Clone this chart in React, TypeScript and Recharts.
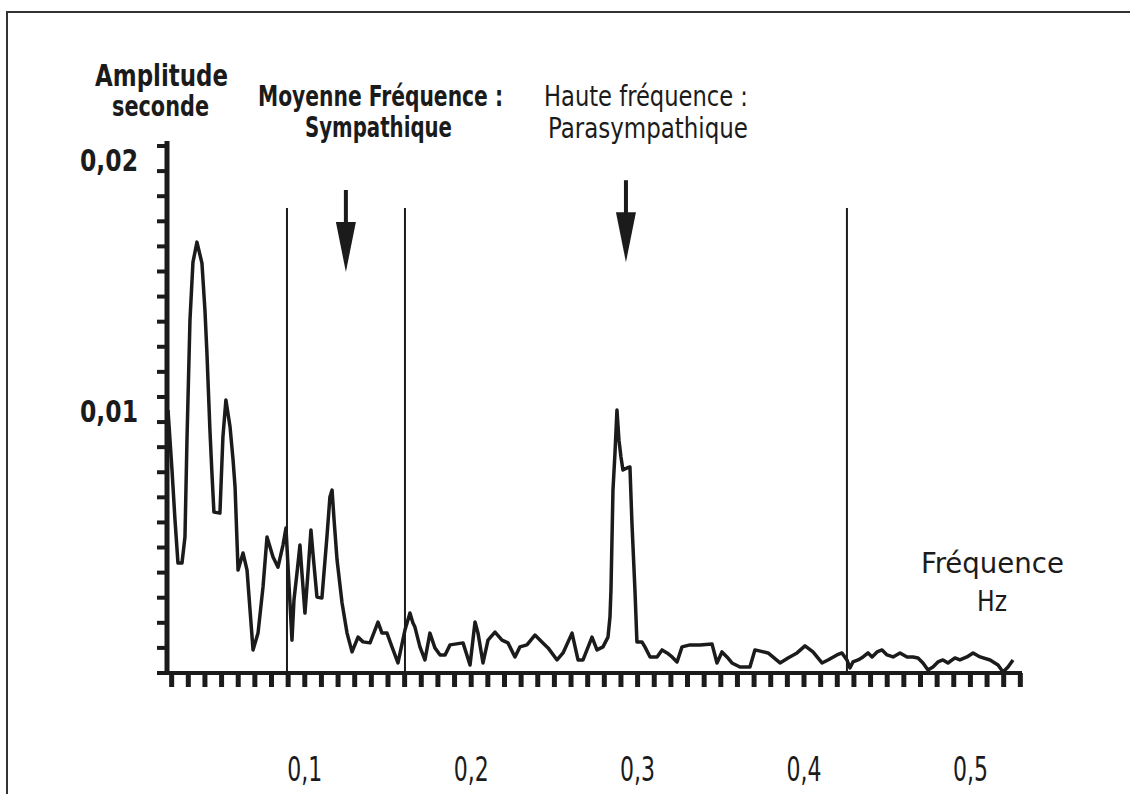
import { LineChart, Line, XAxis, YAxis, ReferenceLine, ReferenceDot, Customized } from "recharts";

// spectre de la variabilité cardiaque
const FREQ = [
  0.0178, 0.0202, 0.022, 0.0238, 0.0262, 0.028, 0.0292, 0.031, 0.0328, 0.0352,
  0.0382, 0.04, 0.0412, 0.043, 0.0442, 0.0454, 0.049, 0.0508, 0.0526, 0.0551,
  0.0569, 0.0581, 0.0599, 0.0629, 0.0653, 0.0671, 0.0689, 0.0719, 0.0749, 0.0773,
  0.0809, 0.0839, 0.0869, 0.0887, 0.0911, 0.0923, 0.0935, 0.0953, 0.0971, 0.0983,
  0.1001, 0.1019, 0.1037, 0.1049, 0.1073, 0.1103, 0.1133, 0.1151, 0.1164, 0.1176,
  0.1194, 0.1224, 0.1254, 0.1284, 0.132, 0.135, 0.1392, 0.144, 0.1464, 0.1494,
  0.1524, 0.156, 0.1602, 0.1632, 0.165, 0.1662, 0.1692, 0.1722, 0.1752, 0.1782,
  0.1813, 0.1843, 0.1873, 0.1951, 0.1993, 0.2023, 0.2041, 0.2071, 0.2101, 0.2143,
  0.2185, 0.2221, 0.2263, 0.2293, 0.2335, 0.2383, 0.2425, 0.2462, 0.2516, 0.2552,
  0.2606, 0.2642, 0.2672, 0.2726, 0.2756, 0.2792, 0.2822, 0.2834, 0.284, 0.2852,
  0.2864, 0.2876, 0.2888, 0.29, 0.2912, 0.2936, 0.2954, 0.2966, 0.2984, 0.2996,
  0.3026, 0.3044, 0.3075, 0.3117, 0.3147, 0.3177, 0.3207, 0.3237, 0.3267, 0.3315,
  0.3375, 0.3447, 0.3477, 0.3507, 0.3537, 0.3567, 0.3615, 0.3675, 0.3705, 0.3784,
  0.3856, 0.3904, 0.3958, 0.4006, 0.4054, 0.4108, 0.4144, 0.4198, 0.4228, 0.4258,
  0.4276, 0.4294, 0.4325, 0.4355, 0.4385, 0.4409, 0.4439, 0.4469, 0.4499, 0.4535,
  0.4577, 0.4619, 0.4655, 0.4685, 0.4715, 0.4745, 0.4775, 0.4805, 0.4835, 0.4865,
  0.4907, 0.4937, 0.4979, 0.5016, 0.5058, 0.5118, 0.5166, 0.5196, 0.5226, 0.5256,
];

const AMP = [
  0.01048, 0.00809, 0.0061, 0.00438, 0.00438, 0.00542, 0.00928, 0.01406, 0.01637, 0.01717,
  0.01633, 0.01446, 0.01275, 0.00968, 0.00797, 0.00641, 0.00637, 0.0094, 0.01088, 0.0098,
  0.00849, 0.00741, 0.0041, 0.00478, 0.0041, 0.00251, 0.00092, 0.00159, 0.00343, 0.00542,
  0.00462, 0.00422, 0.0051, 0.00578, 0.00279, 0.00131, 0.00291, 0.00398, 0.0051, 0.00398,
  0.00239, 0.00398, 0.0057, 0.00478, 0.00303, 0.00299, 0.00542, 0.00701, 0.00729, 0.0061,
  0.0045, 0.00279, 0.00159, 0.00084, 0.00143, 0.00124, 0.0012, 0.00203, 0.00159, 0.00159,
  0.00104, 0.0004, 0.00171, 0.00239, 0.00199, 0.00183, 0.00104, 0.00052, 0.00159, 0.001,
  0.00072, 0.00072, 0.00112, 0.0012, 0.00032, 0.00203, 0.00159, 0.0004, 0.00131, 0.00163,
  0.00131, 0.0012, 0.00064, 0.00104, 0.00112, 0.00151, 0.00124, 0.001, 0.00052, 0.0008,
  0.00159, 0.00052, 0.00052, 0.00143, 0.00092, 0.00104, 0.00143, 0.00223, 0.00331, 0.00729,
  0.00876, 0.01048, 0.00928, 0.00861, 0.00809, 0.00817, 0.00821, 0.00598, 0.00331, 0.00124,
  0.00124, 0.00104, 0.00064, 0.00064, 0.00092, 0.0008, 0.00064, 0.00044, 0.00104, 0.00112,
  0.00112, 0.00116, 0.0004, 0.00084, 0.00064, 0.0004, 0.00024, 0.00024, 0.00092, 0.0008,
  0.0004, 0.0006, 0.0008, 0.00108, 0.00084, 0.0004, 0.00052, 0.00072, 0.0008, 0.00052,
  0.0002, 0.00044, 0.00052, 0.00064, 0.0008, 0.00064, 0.00084, 0.00092, 0.00072, 0.00064,
  0.0008, 0.00064, 0.00064, 0.0006, 0.0004, 0.00012, 0.00024, 0.00044, 0.00052, 0.0004,
  0.0006, 0.00052, 0.00064, 0.0008, 0.00064, 0.00052, 0.00032, 0.00004, 0.00024, 0.00052,
];

const X_LABELS = [0.1, 0.2, 0.3, 0.4, 0.5];
const Y_LABELS = [0.01, 0.02];
const X_TICKS = Array.from({ length: 52 }, (_, i) => +(0.02 + i * 0.01).toFixed(2));
const Y_TICKS = Array.from({ length: 22 }, (_, i) => +(i * 0.001).toFixed(3));

// limites des bandes et flèches
const BANDS = [0.0893, 0.1602, 0.4258];
const BAND_TOP = 0.01853;
const ARROWS = [
  { f: 0.1247, a: 0.01598 },
  { f: 0.293, a: 0.01637 },
];

const INK = "#1b1b1b";
const FONT = "'Liberation Sans Narrow', 'DejaVu Sans Condensed', 'Liberation Sans', sans-serif";

const data = FREQ.map((f, i) => ({ f, a: AMP[i] }));

const comma = (v: number, d: number) => v.toFixed(d).replace(".", ",");

function XTick({ x, y, payload }: any) {
  if (!X_LABELS.some((l) => Math.abs(l - payload.value) < 1e-9)) return null;
  return (
    <text
      x={x}
      y={y + 92}
      textAnchor="middle"
      textLength={35}
      lengthAdjust="spacingAndGlyphs"
      fontFamily={FONT}
      fontSize={33}
      fill={INK}
    >
      {comma(payload.value, 1)}
    </text>
  );
}

function YTick({ x, y, payload }: any) {
  if (!Y_LABELS.some((l) => Math.abs(l - payload.value) < 1e-9)) return null;
  return (
    <text
      x={x - 17}
      y={y}
      textAnchor="end"
      textLength={58}
      lengthAdjust="spacingAndGlyphs"
      fontFamily={FONT}
      fontSize={30}
      fontWeight={700}
      fill={INK}
    >
      {comma(payload.value, 2)}
    </text>
  );
}

function Arrow({ cx, cy }: any) {
  return (
    <g fill={INK}>
      <rect x={cx - 2} y={cy - 82} width={4} height={34} />
      <polygon points={`${cx - 10},${cy - 50} ${cx + 10},${cy - 50} ${cx},${cy}`} />
    </g>
  );
}

function Titles() {
  const t = (x: number, y: number, w: number, s: string, size = 28, weight = 400) => (
    <text
      x={x}
      y={y}
      textLength={w}
      lengthAdjust="spacingAndGlyphs"
      fontFamily={FONT}
      fontSize={size}
      fontWeight={weight}
      fill={INK}
    >
      {s}
    </text>
  );
  return (
    <g>
      {t(95, 86, 133, "Amplitude", 30, 700)}
      {t(112, 116, 97, "seconde", 28, 700)}
      {t(258, 106, 245, "Moyenne Fréquence :", 28, 700)}
      {t(305, 137, 147, "Sympathique", 28, 700)}
      {t(544, 106, 204, "Haute fréquence :", 28)}
      {t(548, 138, 200, "Parasympathique", 28)}
      {t(921, 573, 143, "Fréquence", 29)}
      {t(977, 611, 30, "Hz", 29)}
    </g>
  );
}

export default function App() {
  return (
    <div
      style={{
        position: "absolute",
        left: 0,
        top: 0,
        width: 1130,
        height: 794,
        background: "#fff",
      }}
    >
      <div
        style={{
          position: "absolute",
          left: 6,
          top: 11,
          right: 0,
          bottom: 0,
          borderLeft: "2px solid #333",
          borderTop: "2px solid #333",
        }}
      />
      <div style={{ position: "absolute", left: 0, top: 0 }}>
        <LineChart
          width={1130}
          height={794}
          data={data}
          margin={{ top: 141, right: 108, bottom: 91, left: 107 }}
        >
          <XAxis
            type="number"
            dataKey="f"
            domain={[0.0172, 0.531]}
            allowDataOverflow
            ticks={X_TICKS}
            interval={0}
            height={30}
            axisLine={{ stroke: INK, strokeWidth: 4 }}
            tickLine={{ stroke: INK, strokeWidth: 5 }}
            tickSize={14}
            tick={<XTick />}
          />
          <YAxis
            type="number"
            domain={[0, 0.0212]}
            allowDataOverflow
            ticks={Y_TICKS}
            interval={0}
            width={60}
            axisLine={{ stroke: INK, strokeWidth: 5 }}
            tickLine={{ stroke: INK, strokeWidth: 4 }}
            tickSize={10}
            tick={<YTick />}
          />
          {BANDS.map((b) => (
            <ReferenceLine
              key={b}
              segment={[
                { x: b, y: 0 },
                { x: b, y: BAND_TOP },
              ]}
              stroke={INK}
              strokeWidth={2}
            />
          ))}
          {ARROWS.map((a) => (
            <ReferenceDot key={a.f} x={a.f} y={a.a} r={1} shape={<Arrow />} />
          ))}
          <Line
            type="linear"
            dataKey="a"
            stroke={INK}
            strokeWidth={3.5}
            strokeLinejoin="round"
            dot={false}
            isAnimationActive={false}
          />
          <Customized component={Titles} />
        </LineChart>
      </div>
    </div>
  );
}
